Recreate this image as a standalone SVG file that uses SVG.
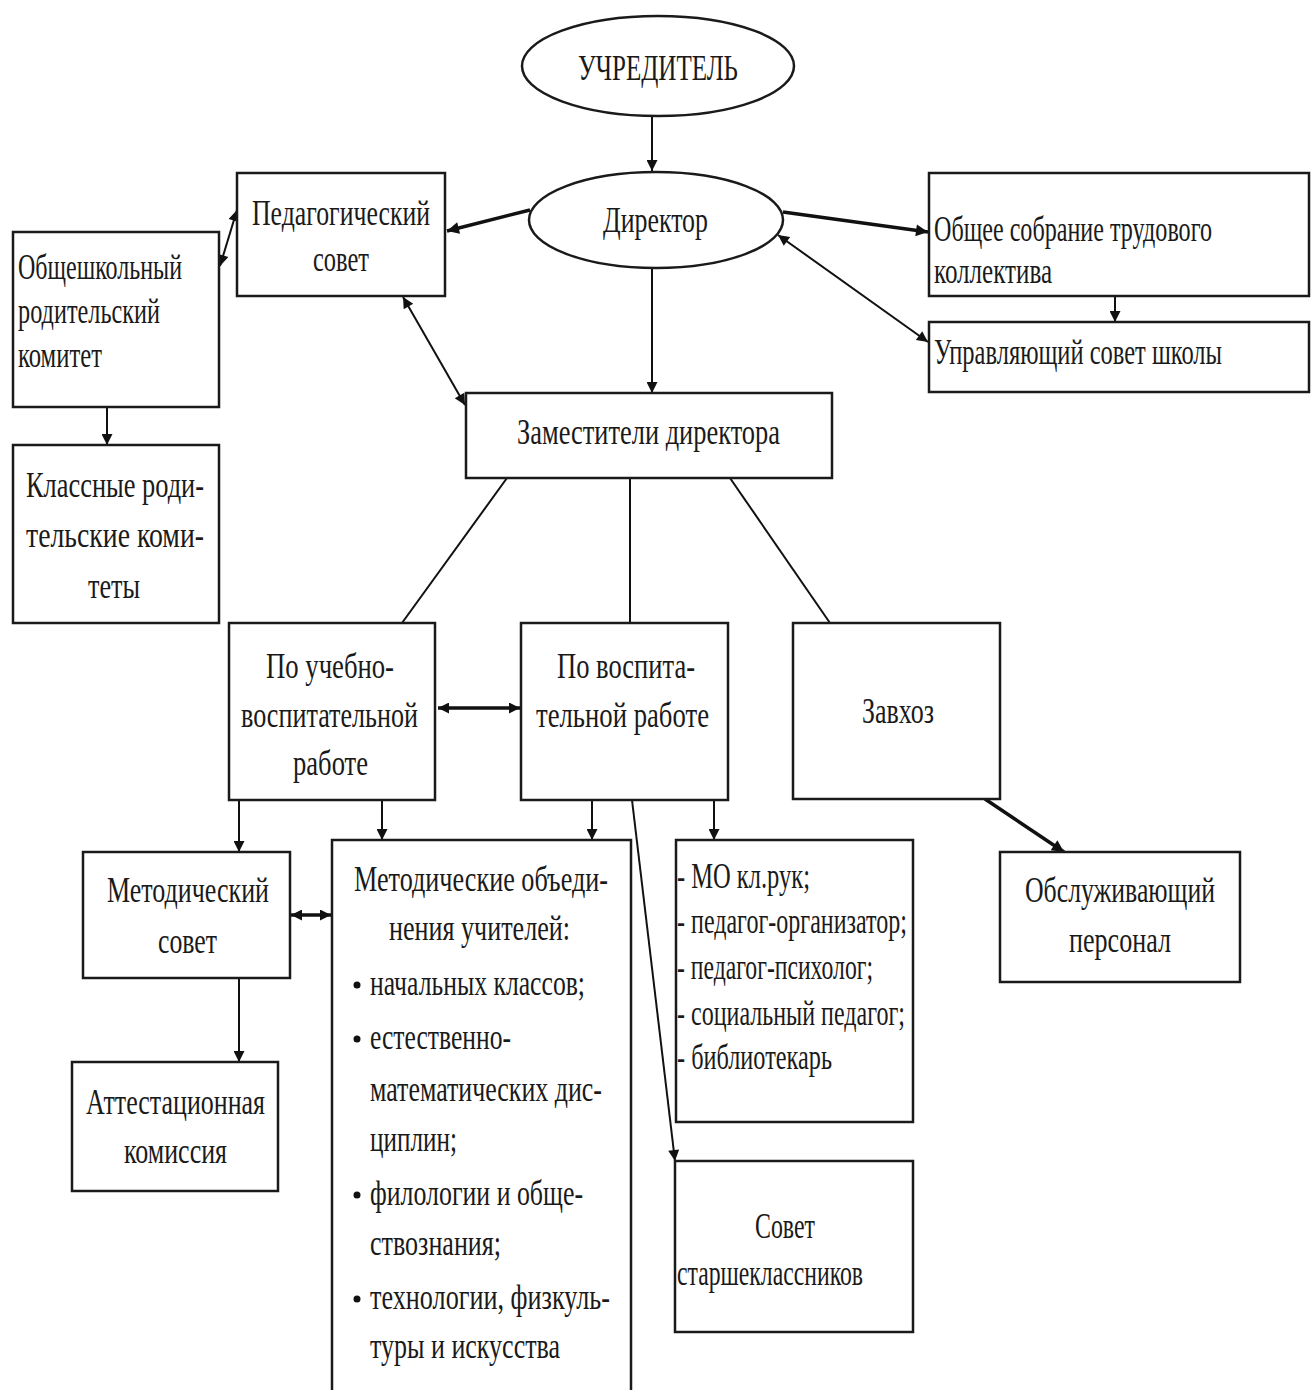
<svg xmlns="http://www.w3.org/2000/svg" width="1311" height="1390" viewBox="0 0 1311 1390">
<style>
.box{fill:#fff;stroke:#1a1a1a;stroke-width:2.5}
.t{font-family:"Liberation Serif","Times New Roman",serif;font-size:35px;fill:#1a1a1a}
.c{fill:none;stroke:#111;stroke-width:2}
.k{fill:none;stroke:#111;stroke-width:3.5}
</style>
<defs>
<marker id="ah" viewBox="0 0 10 10" refX="10" refY="5" markerWidth="13" markerHeight="11" markerUnits="userSpaceOnUse" orient="auto-start-reverse">
<path d="M0,0 L10,5 L0,10 z" fill="#111"/>
</marker>
<marker id="ahk" viewBox="0 0 10 10" refX="10" refY="5" markerWidth="14" markerHeight="12" markerUnits="userSpaceOnUse" orient="auto-start-reverse">
<path d="M0,0 L10,5 L0,10 z" fill="#111"/>
</marker>
</defs>
<rect width="1311" height="1390" fill="#fff"/>

<g id="connectors">
<line class="c" x1="652" y1="117" x2="652" y2="171" marker-end="url(#ah)"/>
<line class="c" x1="652" y1="268" x2="652" y2="393" marker-end="url(#ah)"/>
<line class="k" x1="530" y1="210" x2="447" y2="231" marker-end="url(#ahk)"/>
<line class="k" x1="783" y1="212" x2="928" y2="232" marker-end="url(#ahk)"/>
<line class="c" x1="778" y1="235" x2="928" y2="342" marker-start="url(#ah)" marker-end="url(#ah)"/>
<line class="c" x1="403" y1="297" x2="465" y2="405" marker-start="url(#ah)" marker-end="url(#ah)"/>
<line class="c" x1="220" y1="266" x2="237" y2="210" marker-start="url(#ah)" marker-end="url(#ah)"/>
<line class="c" x1="1115" y1="296" x2="1115" y2="322" marker-end="url(#ah)"/>
<line class="c" x1="107" y1="407" x2="107" y2="445" marker-end="url(#ah)"/>
<line class="c" x1="507" y1="478" x2="402" y2="623"/>
<line class="c" x1="630" y1="478" x2="630" y2="623"/>
<line class="c" x1="730" y1="478" x2="830" y2="623"/>
<line class="k" x1="438" y1="708" x2="520" y2="708" marker-start="url(#ah)" marker-end="url(#ah)"/>
<line class="c" x1="239" y1="800" x2="239" y2="852" marker-end="url(#ah)"/>
<line class="c" x1="382" y1="800" x2="382" y2="840" marker-end="url(#ah)"/>
<line class="c" x1="592" y1="800" x2="592" y2="840" marker-end="url(#ah)"/>
<line class="c" x1="714" y1="800" x2="714" y2="840" marker-end="url(#ah)"/>
<line class="c" x1="632" y1="800" x2="675" y2="1161" marker-end="url(#ah)"/>
<line class="k" x1="985" y1="799" x2="1064" y2="852" marker-end="url(#ahk)"/>
<line class="k" x1="291" y1="915" x2="331" y2="915" marker-start="url(#ah)" marker-end="url(#ah)"/>
<line class="c" x1="239" y1="978" x2="239" y2="1062" marker-end="url(#ah)"/>
</g>

<g id="uchreditel">
<ellipse class="box" cx="658" cy="66" rx="136" ry="50"/>
<text class="t" x="578" y="80" font-size="38" textLength="160" lengthAdjust="spacingAndGlyphs">УЧРЕДИТЕЛЬ</text>
</g>
<g id="direktor">
<ellipse class="box" cx="656" cy="220" rx="127" ry="48"/>
<text class="t" x="603" y="232" textLength="105" lengthAdjust="spacingAndGlyphs">Директор</text>
</g>
<g id="pedsovet">
<rect class="box" x="237" y="173" width="208" height="123"/>
<text class="t" x="252" y="225" textLength="178" lengthAdjust="spacingAndGlyphs">Педагогический</text>
<text class="t" x="313" y="271" textLength="56" lengthAdjust="spacingAndGlyphs">совет</text>
</g>
<g id="obshchshkol">
<rect class="box" x="13" y="232" width="206" height="175"/>
<text class="t" x="18" y="279" textLength="164" lengthAdjust="spacingAndGlyphs">Общешкольный</text>
<text class="t" x="18" y="323" textLength="142" lengthAdjust="spacingAndGlyphs">родительский</text>
<text class="t" x="18" y="367" textLength="84" lengthAdjust="spacingAndGlyphs">комитет</text>
</g>
<g id="klassnye">
<rect class="box" x="13" y="445" width="206" height="178"/>
<text class="t" x="26" y="497" textLength="178" lengthAdjust="spacingAndGlyphs">Классные роди-</text>
<text class="t" x="26" y="547" textLength="178" lengthAdjust="spacingAndGlyphs">тельские коми-</text>
<text class="t" x="88" y="598" textLength="52" lengthAdjust="spacingAndGlyphs">теты</text>
</g>
<g id="obshchee">
<rect class="box" x="929" y="173" width="380" height="123"/>
<text class="t" x="934" y="241" textLength="278" lengthAdjust="spacingAndGlyphs">Общее собрание трудового</text>
<text class="t" x="934" y="283" textLength="118" lengthAdjust="spacingAndGlyphs">коллектива</text>
</g>
<g id="upravl">
<rect class="box" x="929" y="322" width="380" height="70"/>
<text class="t" x="934" y="364" textLength="288" lengthAdjust="spacingAndGlyphs">Управляющий совет школы</text>
</g>
<g id="zamestiteli">
<rect class="box" x="466" y="393" width="366" height="85"/>
<text class="t" x="517" y="444" textLength="263" lengthAdjust="spacingAndGlyphs">Заместители директора</text>
</g>
<g id="uchebno">
<rect class="box" x="229" y="623" width="206" height="177"/>
<text class="t" x="266" y="678" textLength="128" lengthAdjust="spacingAndGlyphs">По учебно-</text>
<text class="t" x="241" y="727" textLength="177" lengthAdjust="spacingAndGlyphs">воспитательной</text>
<text class="t" x="293" y="775" textLength="75" lengthAdjust="spacingAndGlyphs">работе</text>
</g>
<g id="vospit">
<rect class="box" x="521" y="623" width="207" height="177"/>
<text class="t" x="557" y="678" textLength="138" lengthAdjust="spacingAndGlyphs">По воспита-</text>
<text class="t" x="536" y="727" textLength="173" lengthAdjust="spacingAndGlyphs">тельной работе</text>
</g>
<g id="zavhoz">
<rect class="box" x="793" y="623" width="207" height="176"/>
<text class="t" x="862" y="723" textLength="72" lengthAdjust="spacingAndGlyphs">Завхоз</text>
</g>
<g id="obsluzh">
<rect class="box" x="1000" y="852" width="240" height="130"/>
<text class="t" x="1025" y="902" textLength="190" lengthAdjust="spacingAndGlyphs">Обслуживающий</text>
<text class="t" x="1069" y="952" textLength="102" lengthAdjust="spacingAndGlyphs">персонал</text>
</g>
<g id="metodsovet">
<rect class="box" x="83" y="852" width="207" height="126"/>
<text class="t" x="107" y="902" textLength="162" lengthAdjust="spacingAndGlyphs">Методический</text>
<text class="t" x="158" y="953" textLength="59" lengthAdjust="spacingAndGlyphs">совет</text>
</g>
<g id="attest">
<rect class="box" x="72" y="1062" width="206" height="129"/>
<text class="t" x="86" y="1114" textLength="179" lengthAdjust="spacingAndGlyphs">Аттестационная</text>
<text class="t" x="124" y="1163" textLength="103" lengthAdjust="spacingAndGlyphs">комиссия</text>
</g>
<g id="metodobed">
<rect class="box" x="332" y="840" width="299" height="570"/>
<text class="t" x="354" y="891" textLength="254" lengthAdjust="spacingAndGlyphs">Методические объеди-</text>
<text class="t" x="389" y="940" textLength="181" lengthAdjust="spacingAndGlyphs">нения учителей:</text>
<circle cx="357" cy="985" r="3.5" fill="#111"/>
<text class="t" x="370" y="995" textLength="215" lengthAdjust="spacingAndGlyphs">начальных классов;</text>
<circle cx="357" cy="1039" r="3.5" fill="#111"/>
<text class="t" x="370" y="1049" textLength="141" lengthAdjust="spacingAndGlyphs">естественно-</text>
<text class="t" x="370" y="1101" textLength="232" lengthAdjust="spacingAndGlyphs">математических дис-</text>
<text class="t" x="370" y="1151" textLength="87" lengthAdjust="spacingAndGlyphs">циплин;</text>
<circle cx="357" cy="1195" r="3.5" fill="#111"/>
<text class="t" x="370" y="1205" textLength="213" lengthAdjust="spacingAndGlyphs">филологии и обще-</text>
<text class="t" x="370" y="1255" textLength="131" lengthAdjust="spacingAndGlyphs">ствознания;</text>
<circle cx="357" cy="1299" r="3.5" fill="#111"/>
<text class="t" x="370" y="1309" textLength="240" lengthAdjust="spacingAndGlyphs">технологии, физкуль-</text>
<text class="t" x="370" y="1358" textLength="190" lengthAdjust="spacingAndGlyphs">туры и искусства</text>
</g>
<g id="mo">
<rect class="box" x="676" y="840" width="237" height="282"/>
<text class="t" x="677" y="888" textLength="133" lengthAdjust="spacingAndGlyphs">- МО кл.рук;</text>
<text class="t" x="677" y="933" textLength="230" lengthAdjust="spacingAndGlyphs">- педагог-организатор;</text>
<text class="t" x="677" y="979" textLength="196" lengthAdjust="spacingAndGlyphs">- педагог-психолог;</text>
<text class="t" x="677" y="1025" textLength="228" lengthAdjust="spacingAndGlyphs">- социальный педагог;</text>
<text class="t" x="677" y="1069" textLength="155" lengthAdjust="spacingAndGlyphs">- библиотекарь</text>
</g>
<g id="sovetstarsh">
<rect class="box" x="675" y="1161" width="238" height="171"/>
<text class="t" x="755" y="1238" textLength="60" lengthAdjust="spacingAndGlyphs">Совет</text>
<text class="t" x="677" y="1285" textLength="186" lengthAdjust="spacingAndGlyphs">старшеклассников</text>
</g>
</svg>
